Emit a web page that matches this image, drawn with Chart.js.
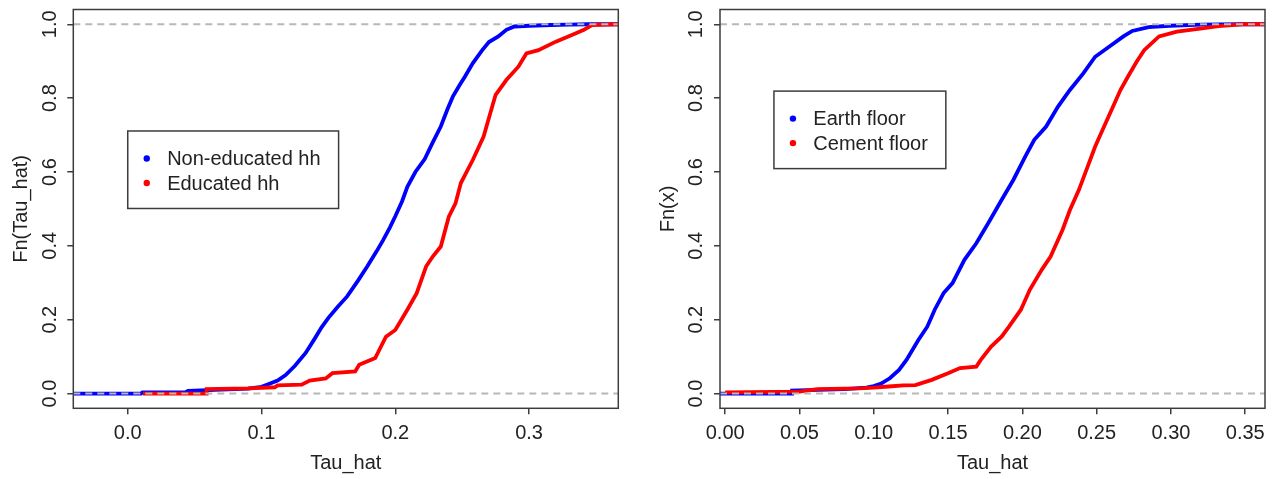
<!DOCTYPE html>
<html>
<head>
<meta charset="utf-8">
<script src="https://cdn.jsdelivr.net/npm/chart.js@4"></script>
<style>
  html, body { margin: 0; padding: 0; background: #ffffff; }
  body { width: 1279px; height: 479px; position: relative; overflow: hidden; }
  .panel { position: absolute; top: 0; height: 479px; }
  #p1 { left: 0; width: 640px; }
  #p2 { left: 640px; width: 639px; }
</style>
</head>
<body>
<div class="panel" id="p1"><canvas id="c1"></canvas></div>
<div class="panel" id="p2"><canvas id="c2"></canvas></div>
<script>
// ---------- DATA ----------
// Left panel: ECDF of Tau_hat by household education
const leftLabels = ["Non-educated hh", "Educated hh"];
const nonEduX = [-0.0407, 0.01, 0.011, 0.043, 0.045, 0.09, 0.1, 0.105, 0.112, 0.118, 0.125, 0.133, 0.14, 0.145, 0.15, 0.157, 0.164, 0.172, 0.179, 0.186, 0.191, 0.196, 0.2, 0.205, 0.209, 0.215, 0.222, 0.228, 0.234, 0.239, 0.243, 0.248, 0.252, 0.258, 0.265, 0.27, 0.277, 0.283, 0.289, 0.3, 0.316, 0.33, 0.344, 0.3667];
const nonEduY = [0, 0, 0.003, 0.003, 0.007, 0.013, 0.018, 0.025, 0.035, 0.05, 0.075, 0.11, 0.15, 0.18, 0.205, 0.235, 0.263, 0.305, 0.344, 0.385, 0.416, 0.45, 0.48, 0.52, 0.56, 0.6, 0.635, 0.68, 0.723, 0.77, 0.804, 0.835, 0.858, 0.895, 0.93, 0.952, 0.967, 0.985, 0.994, 0.996, 0.998, 0.999, 1.0, 1.0];
const eduX = [0.0114, 0.059, 0.059, 0.09, 0.11, 0.112, 0.13, 0.136, 0.148, 0.153, 0.17, 0.173, 0.185, 0.193, 0.2, 0.209, 0.216, 0.223, 0.228, 0.234, 0.24, 0.245, 0.249, 0.258, 0.266, 0.271, 0.275, 0.283, 0.292, 0.298, 0.307, 0.32, 0.332, 0.341, 0.347, 0.3667];
const eduY = [0, 0, 0.012, 0.014, 0.017, 0.022, 0.024, 0.035, 0.041, 0.055, 0.06, 0.078, 0.096, 0.154, 0.172, 0.227, 0.272, 0.344, 0.371, 0.398, 0.479, 0.515, 0.57, 0.633, 0.696, 0.759, 0.809, 0.849, 0.885, 0.921, 0.93, 0.953, 0.971, 0.985, 0.998, 1.0];

// Right panel: ECDF of Tau_hat by floor type
const rightLabels = ["Earth floor", "Cement floor"];
const earthX = [-0.0035, 0.045, 0.045, 0.08, 0.095, 0.1, 0.105, 0.111, 0.117, 0.122, 0.13, 0.136, 0.141, 0.147, 0.153, 0.161, 0.169, 0.177, 0.186, 0.194, 0.202, 0.208, 0.216, 0.224, 0.232, 0.241, 0.249, 0.26, 0.268, 0.274, 0.285, 0.299, 0.321, 0.345, 0.3633];
const earthY = [0, 0, 0.008, 0.012, 0.016, 0.02, 0.027, 0.042, 0.064, 0.091, 0.145, 0.181, 0.227, 0.272, 0.299, 0.362, 0.407, 0.461, 0.524, 0.579, 0.642, 0.687, 0.723, 0.777, 0.822, 0.867, 0.912, 0.944, 0.967, 0.982, 0.992, 0.996, 0.999, 1.0, 1.0];
const cementX = [0.0, 0.05, 0.062, 0.09, 0.1, 0.11, 0.12, 0.128, 0.139, 0.15, 0.158, 0.169, 0.172, 0.179, 0.186, 0.191, 0.199, 0.205, 0.213, 0.219, 0.227, 0.232, 0.238, 0.244, 0.249, 0.255, 0.26, 0.266, 0.271, 0.277, 0.282, 0.292, 0.304, 0.321, 0.332, 0.348, 0.3633];
const cementY = [0.003, 0.005, 0.012, 0.014, 0.016, 0.019, 0.022, 0.023, 0.037, 0.055, 0.069, 0.073, 0.091, 0.127, 0.154, 0.181, 0.227, 0.281, 0.335, 0.371, 0.443, 0.497, 0.551, 0.615, 0.669, 0.723, 0.768, 0.822, 0.858, 0.899, 0.93, 0.967, 0.98, 0.989, 0.995, 1.0, 1.0];

// Axes
const leftXTicks = [0.0, 0.1, 0.2, 0.3];
const rightXTicks = [0.00, 0.05, 0.10, 0.15, 0.20, 0.25, 0.30, 0.35];
const yTicks = [0.0, 0.2, 0.4, 0.6, 0.8, 1.0];
const refLines = [0, 1];
const xTitle = "Tau_hat";
const leftYTitle = "Fn(Tau_hat)";
const rightYTitle = "Fn(x)";

// ---------- RENDERING ----------
const FONT = "'Liberation Sans', Arial, Helvetica, sans-serif";
Chart.defaults.font.family = FONT;
Chart.defaults.font.size = 20;
Chart.defaults.color = '#222222';

function zip(xs, ys) { return xs.map((x, i) => ({ x: x, y: ys[i] })); }

const rPlotPlugin = {
  id: 'rPlot',
  afterDatasetsDraw(chart, args, opts) {
    const ctx = chart.ctx, ca = chart.chartArea;
    const xs = chart.scales.x, ys = chart.scales.y;
    ctx.save();
    // reference dashed lines
    ctx.beginPath();
    ctx.rect(ca.left, ca.top, ca.right - ca.left, ca.bottom - ca.top);
    ctx.clip();
    ctx.strokeStyle = '#b8b8b8';
    ctx.lineWidth = 2;
    ctx.setLineDash([7, 5]);
    refLines.forEach(v => {
      const py = ys.getPixelForValue(v);
      ctx.beginPath();
      ctx.moveTo(ca.left, py);
      ctx.lineTo(ca.right, py);
      ctx.stroke();
    });
    ctx.restore();

    ctx.save();
    // box
    ctx.strokeStyle = '#3c3c3c';
    ctx.lineWidth = 1.5;
    ctx.strokeRect(ca.left, ca.top, ca.right - ca.left, ca.bottom - ca.top);

    // rotated y tick labels
    ctx.fillStyle = '#222222';
    ctx.font = '20px ' + FONT;
    ctx.textAlign = 'center';
    ctx.textBaseline = 'middle';
    yTicks.forEach(v => {
      const py = ys.getPixelForValue(v);
      ctx.save();
      ctx.translate(ca.left - 24.3, py);
      ctx.rotate(-Math.PI / 2);
      ctx.fillText(v.toFixed(1), 0, 1);
      ctx.restore();
    });

    // legend box (R style)
    const lx = xs.getPixelForValue(opts.legendX);
    const ly = ys.getPixelForValue(opts.legendY);
    const labels = chart.data.datasets.map(d => d.label);
    let tw = 0;
    labels.forEach(l => { tw = Math.max(tw, ctx.measureText(l).width); });
    const bw = 39.4 + tw + 18;
    const bh = 77.5;
    ctx.fillStyle = '#ffffff';
    ctx.fillRect(lx, ly, bw, bh);
    ctx.strokeStyle = '#3c3c3c';
    ctx.lineWidth = 1.5;
    ctx.strokeRect(lx, ly, bw, bh);
    ctx.textAlign = 'left';
    chart.data.datasets.forEach((d, i) => {
      const ry = ly + 27.5 + i * 24.5;
      ctx.fillStyle = d.borderColor;
      ctx.beginPath();
      ctx.arc(lx + 19, ry, 3.2, 0, Math.PI * 2);
      ctx.fill();
      ctx.fillStyle = '#222222';
      ctx.fillText(d.label, lx + 39.4, ry + 1);
    });
    ctx.restore();
  }
};

function makeChart(canvasId, cfg) {
  return new Chart(document.getElementById(canvasId), {
    type: 'line',
    data: {
      datasets: cfg.series.map((s, i) => ({
        label: s.label,
        data: zip(s.xs, s.ys),
        borderColor: s.color,
        backgroundColor: s.color,
        borderWidth: 3.8,
        pointRadius: 0,
        tension: 0,
        fill: false,
        order: cfg.series.length - i
      }))
    },
    options: {
      responsive: true,
      maintainAspectRatio: false,
      animation: false,
      events: [],
      layout: { padding: { top: 9.5, right: cfg.padRight, bottom: 0, left: 0 } },
      plugins: {
        legend: { display: false },
        tooltip: { enabled: false },
        rPlot: { legendX: cfg.legendX, legendY: cfg.legendY }
      },
      scales: {
        x: {
          type: 'linear',
          min: cfg.xMin,
          max: cfg.xMax,
          afterBuildTicks: sc => { sc.ticks = cfg.xTicks.map(v => ({ value: v })); },
          afterFit: sc => { sc.height = 70.7; },
          ticks: {
            callback: v => Number(v).toFixed(cfg.xDigits),
            padding: 7,
            maxRotation: 0,
            minRotation: 0,
            autoSkip: false,
            color: '#222222',
            font: { size: 20 }
          },
          grid: { drawOnChartArea: false, drawTicks: true, tickLength: 6, color: '#3c3c3c', lineWidth: 1.5 },
          border: { display: false },
          title: { display: true, text: xTitle, color: '#222222', font: { size: 20 }, padding: { top: 0, bottom: 4 } }
        },
        y: {
          type: 'linear',
          min: -0.04,
          max: 1.04,
          afterBuildTicks: sc => { sc.ticks = yTicks.map(v => ({ value: v })); },
          afterFit: sc => { sc.width = cfg.yAxisWidth; },
          ticks: { display: false },
          grid: { drawOnChartArea: false, drawTicks: true, tickLength: 6, color: '#3c3c3c', lineWidth: 1.5 },
          border: { display: false },
          title: { display: true, text: cfg.yTitle, color: '#222222', font: { size: 20 }, padding: { top: cfg.yTitlePad, bottom: 0 } }
        }
      }
    },
    plugins: [rPlotPlugin]
  });
}

makeChart('c1', {
  series: [
    { label: leftLabels[0], xs: nonEduX, ys: nonEduY, color: '#0000ff' },
    { label: leftLabels[1], xs: eduX, ys: eduY, color: '#ff0000' }
  ],
  xMin: -0.0407, xMax: 0.3667, xTicks: leftXTicks, xDigits: 1,
  yTitle: leftYTitle, yTitlePad: 9, yAxisWidth: 73.3, padRight: 21.7,
  legendX: 0.0, legendY: 0.711
});

makeChart('c2', {
  series: [
    { label: rightLabels[0], xs: earthX, ys: earthY, color: '#0000ff' },
    { label: rightLabels[1], xs: cementX, ys: cementY, color: '#ff0000' }
  ],
  xMin: -0.0035, xMax: 0.3633, xTicks: rightXTicks, xDigits: 2,
  yTitle: rightYTitle, yTitlePad: 16, yAxisWidth: 80, padRight: 14,
  legendX: 0.0328, legendY: 0.819
});
</script>
</body>
</html>
